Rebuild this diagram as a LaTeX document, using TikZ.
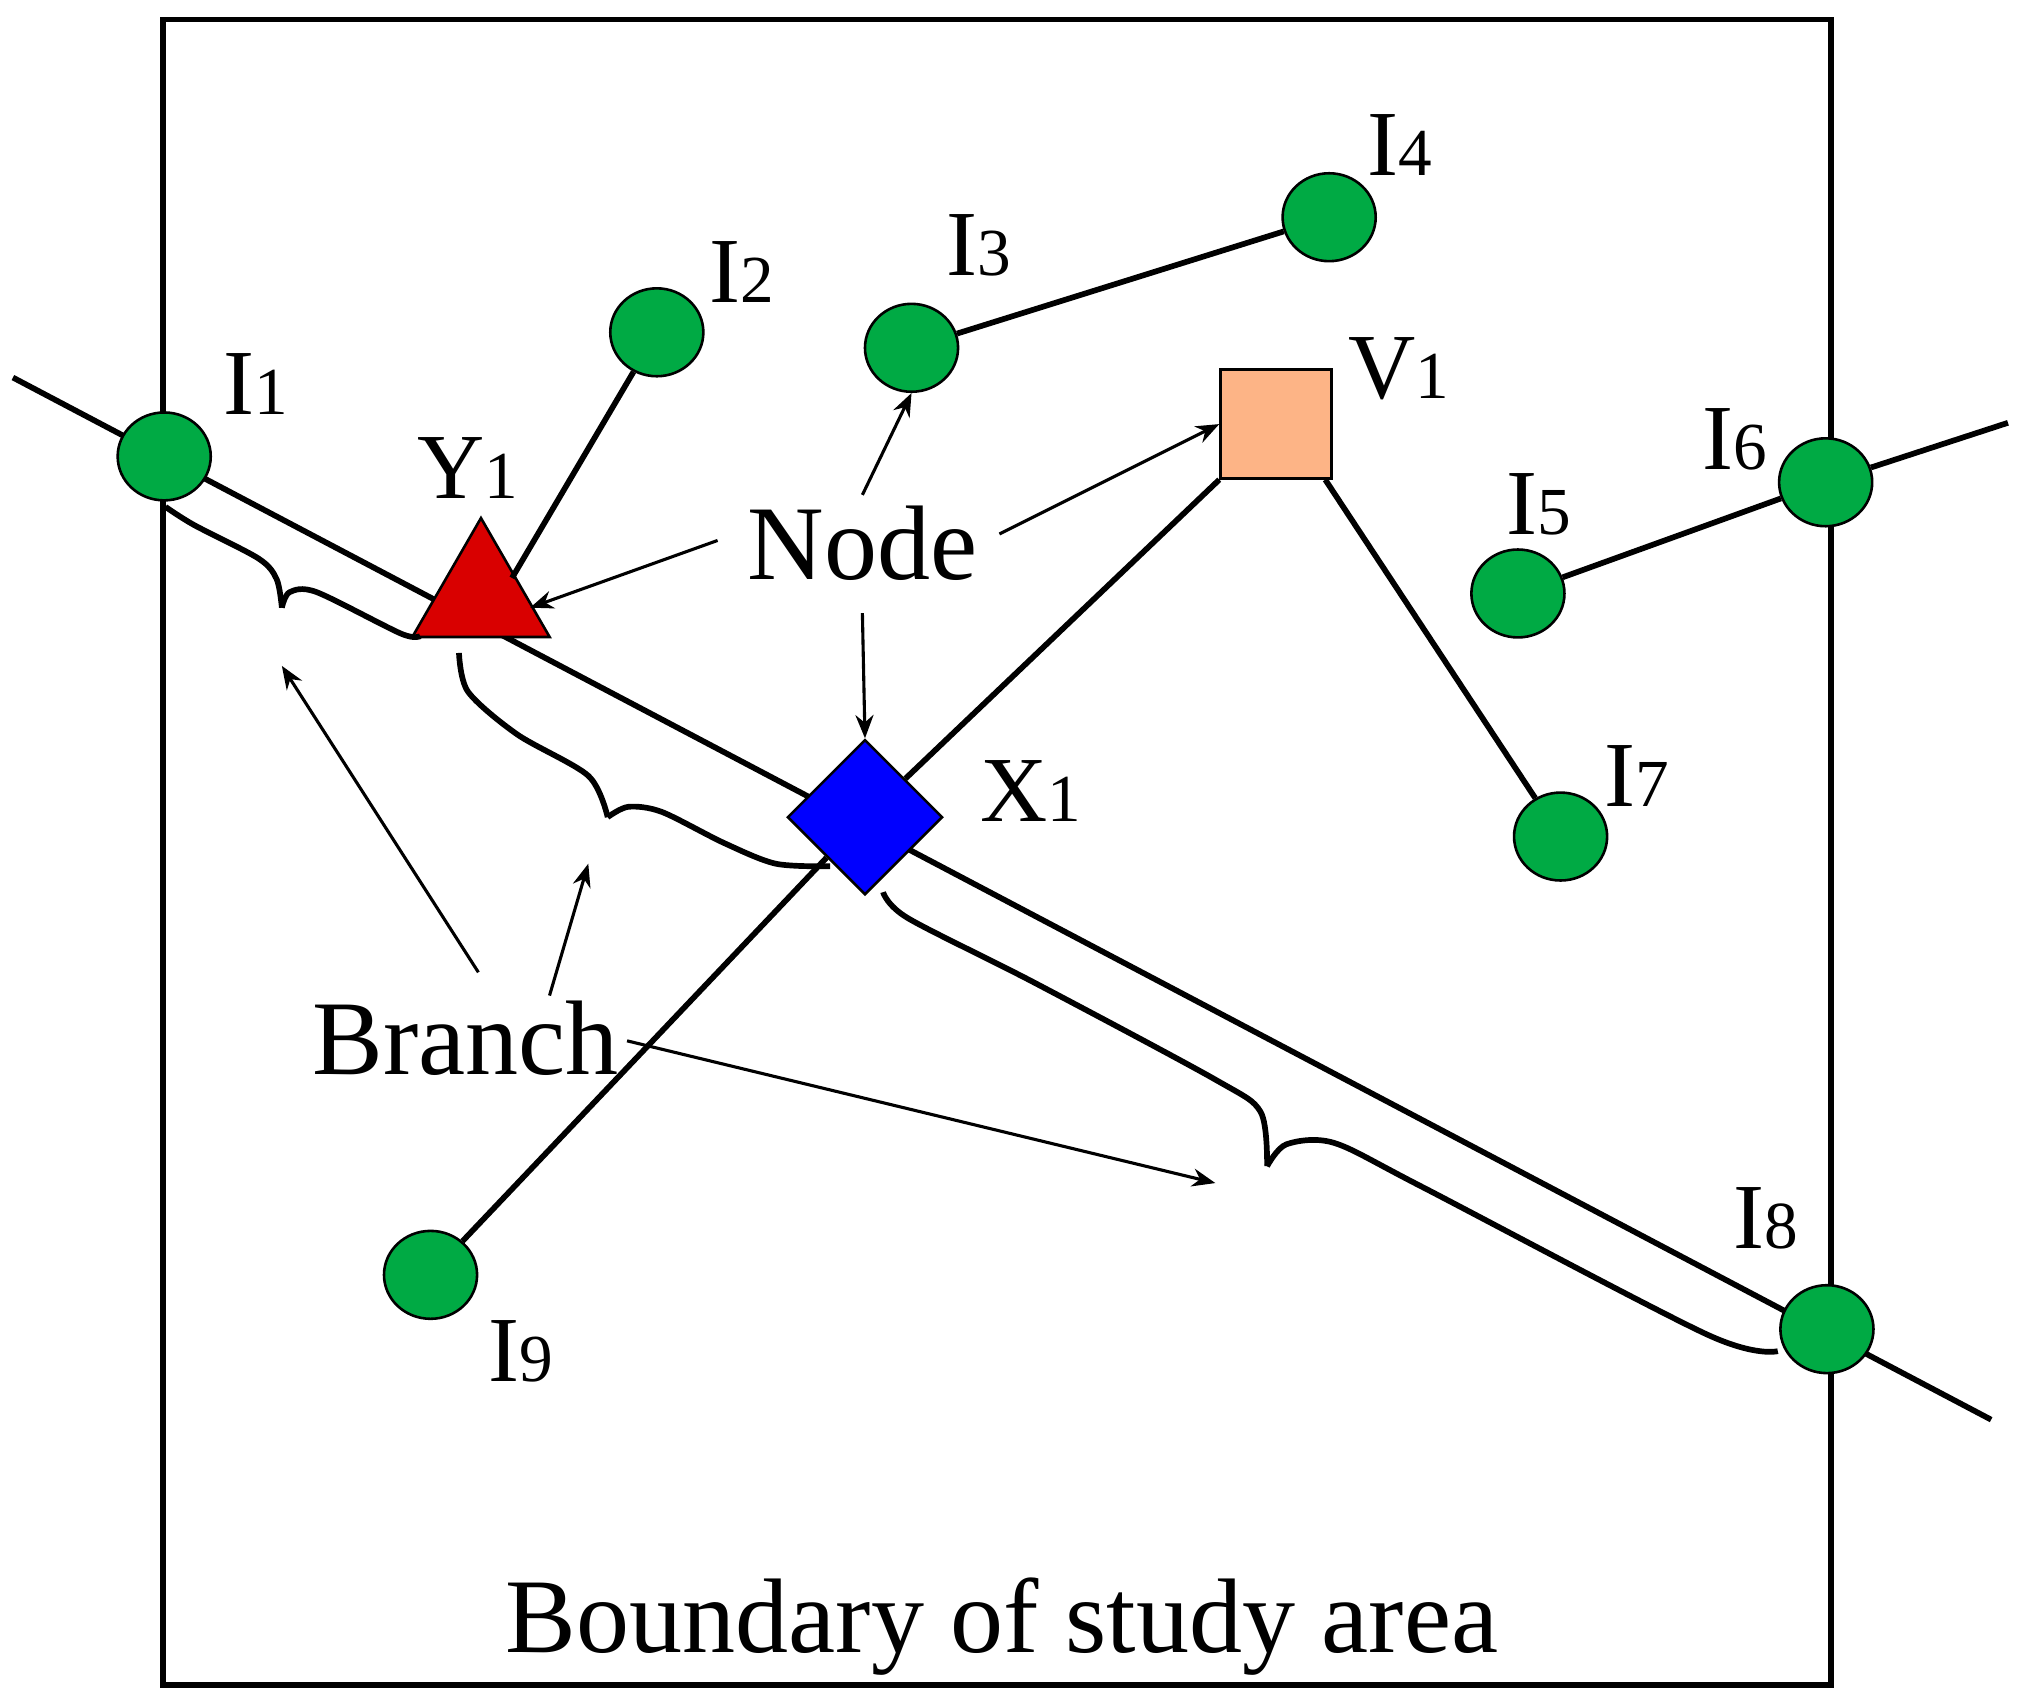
\documentclass[tikz,border=0pt]{standalone}
\usepackage{fontspec}
\setmainfont{Liberation Serif}
\usetikzlibrary{shapes.geometric, arrows.meta, positioning}
\definecolor{colorInt}{RGB}{0, 170, 68}
\definecolor{colorVir}{RGB}{253, 180, 134}
\tikzstyle{inter} = [ellipse, minimum width=36pt, minimum height=34pt, draw=black, line width=1pt, fill=colorInt, inner sep=0pt]
\tikzstyle{lbl} = [font=\fontsize{36}{36}\selectfont, inner sep=0pt]
\tikzstyle{big} = [font=\fontsize{41}{41}\selectfont, inner sep=0pt]
\tikzstyle{road} = [line width=2.2pt]
\tikzstyle{arrow} = [line width=1.2pt, -{Stealth[length=9pt, width=7pt]}]
\newcommand{\sub}[1]{{\fontsize{26}{26}\selectfont #1}}
\begin{document}
\begin{tikzpicture}[x=0.5pt, y=-0.5pt]
		\useasboundingbox (0,0) rectangle (1560,1312);
		\draw[road] (126,15) rectangle (1416,1303);

		% roads
		\coordinate (west) at (10,292);
		\coordinate (east) at (1540,1098);
		\coordinate (ne) at (1553,327);
		\coordinate (yEdge) at (396,447);
		\draw[road] (west) -- (east);

		% intersections and special nodes
		\node (iOne)[inter] at (127,353) {};
		\node (iTwo)[inter] at (508,257) {};
		\node (iThree)[inter] at (705,269) {};
		\node (iFour)[inter] at (1028,168) {};
		\node (iFive)[inter] at (1174,459) {};
		\node (iSix)[inter] at (1412,373) {};
		\node (iSeven)[inter] at (1207,647) {};
		\node (iEight)[inter] at (1413,1028) {};
		\node (iNine)[inter] at (333,986) {};
		\node (yOne)[isosceles triangle, shape border rotate=90, isosceles triangle apex angle=60, minimum height=46pt, draw=black, line width=1pt, fill=red!85!black, inner sep=0pt] at (372,462) {};
		\node (xOne)[diamond, minimum width=60pt, minimum height=60pt, draw=black, line width=1pt, fill=blue, inner sep=0pt] at (669,632) {};
		\node (vOne)[rectangle, minimum width=43pt, minimum height=42pt, draw=black, line width=1pt, fill=colorVir] at (987,328) {};

		% links
		\draw[road] (yEdge) -- (iTwo);
		\draw[road] (iThree) -- (iFour);
		\draw[road] (vOne.south west) -- (xOne) -- (iNine);
		\draw[road] (vOne.south east) ++(-6,0) -- (iSeven);
		\draw[road] (iFive) -- (iSix) -- (ne);

		% labels
		\node[lbl] at (198,297) {I\sub{1}};
		\node[lbl] at (574,210) {I\sub{2}};
		\node[lbl] at (757,190) {I\sub{3}};
		\node[lbl] at (1083,112) {I\sub{4}};
		\node[lbl] at (1190,390) {I\sub{5}};
		\node[lbl] at (1342,340) {I\sub{6}};
		\node[lbl] at (1266,600) {I\sub{7}};
		\node[lbl] at (1366,942) {I\sub{8}};
		\node[lbl] at (403,1045) {I\sub{9}};
		\node[lbl] at (362,362) {Y\sub{1}};
		\node[lbl] at (797,612) {X\sub{1}};
		\node[lbl] at (1082,285) {V\sub{1}};

		\node (node)[big] at (667,420) {Node};
		\node (branch)[big] at (360,803) {Branch};
		\node (boundary)[big] at (775,1258) {Boundary of study area};

		% braces
		\draw[road] plot[smooth] coordinates {(128,392) (150,406) (200,432) (214,448) (218,470)};
		\draw[road] plot[smooth] coordinates {(218,470) (224,458) (245,458) (310,490) (325,492)};
		\draw[road] plot[smooth] coordinates {(355,505) (362,535) (400,568) (455,600) (470,632)};
		\draw[road] plot[smooth] coordinates {(470,632) (486,624) (512,628) (560,652) (600,668) (642,670)};
		\draw[road] plot[smooth] coordinates {(683,690) (702,710) (800,760) (940,835) (975,860) (980,902)};
		\draw[road] plot[smooth] coordinates {(980,902) (995,885) (1032,884) (1100,918) (1320,1032) (1375,1045)};
		\coordinate (tipA) at (218,515);
		\coordinate (tipB) at (455,668);
		\coordinate (tipC) at (940,915);

		% arrows
		\draw[arrow] (555,418) -- (410,470);
		\draw[arrow] (node.north) ++(0,-8) -- (iThree.south);
		\draw[arrow] (773,413) -- (vOne.west);
		\draw[arrow] (node.south) ++(0,25) -- (xOne.north);
		\draw[arrow] (370,752) -- (tipA);
		\draw[arrow] (425,770) -- (tipB);
		\draw[arrow] (485,805) -- (tipC);
	\end{tikzpicture}
\end{document}
